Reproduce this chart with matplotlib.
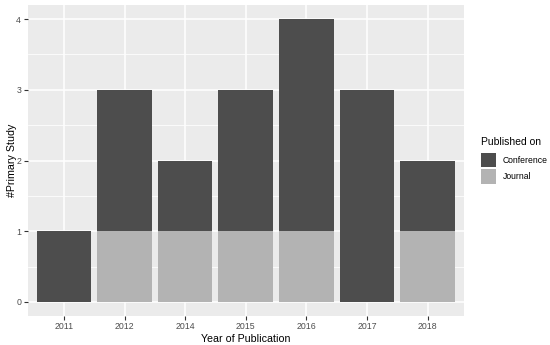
import numpy as np
import matplotlib.pyplot as plt
from matplotlib.patches import Rectangle
from matplotlib.ticker import MultipleLocator

plt.rcParams['font.family'] = ['Liberation Sans', 'DejaVu Sans']

# === Data ===
years = ["2011", "2012", "2014", "2015", "2016", "2017", "2018"]
journal = [0, 1, 1, 1, 1, 0, 1]
conference = [1, 2, 1, 2, 3, 3, 1]
legend_labels = ["Conference", "Journal"]

dark = "#4d4d4d"
light = "#b3b3b3"

W, H = 550, 345
fig = plt.figure(figsize=(W / 100, H / 100), dpi=100)
ax = fig.add_axes([27.5 / W, 29 / H, 436.5 / W, 311 / H])
ax.set_facecolor("#ebebeb")

x = np.arange(len(years))
ax.bar(x, journal, width=0.9, color=light, zorder=2)
ax.bar(x, conference, width=0.9, bottom=journal, color=dark, zorder=2)

ax.set_xlim(-0.6, len(years) - 0.4)
ax.set_ylim(-0.2, 4.2)
ax.set_xticks(x)
ax.set_xticklabels(years)
ax.yaxis.set_major_locator(MultipleLocator(1))
ax.yaxis.set_minor_locator(MultipleLocator(0.5))

ax.grid(True, which="major", color="white", lw=1.1, zorder=0)
ax.grid(True, which="minor", axis="y", color="white", lw=0.55, zorder=0)
ax.set_axisbelow(True)
for s in ax.spines.values():
    s.set_visible(False)

ax.tick_params(which="major", length=2.6, width=0.8, color="#333333",
               labelcolor="#4d4d4d", labelsize=6.3, pad=2)
ax.tick_params(which="minor", length=0)

ax.set_xlabel("Year of Publication", fontsize=7.7, labelpad=2)
ax.set_ylabel("#Primary Study", fontsize=7.7, labelpad=-0.6)

# legend drawn by hand, in pixel positions of the figure
fig.text(480.7 / W, 1 - 145 / H, "Published on", fontsize=7.5,
         ha="left", va="baseline")
for i, (lab, col) in enumerate(zip(legend_labels, [dark, light])):
    top = 152.7 + i * 16.3
    fig.patches.append(Rectangle((480.7 / W, 1 - (top + 14.7) / H),
                                 15.3 / W, 14.7 / H, facecolor=col,
                                 edgecolor="none", transform=fig.transFigure))
    fig.text(502.7 / W, 1 - (top + 7.35) / H, lab, fontsize=6.2,
             ha="left", va="center")

plt.savefig("out.png", dpi=100)
